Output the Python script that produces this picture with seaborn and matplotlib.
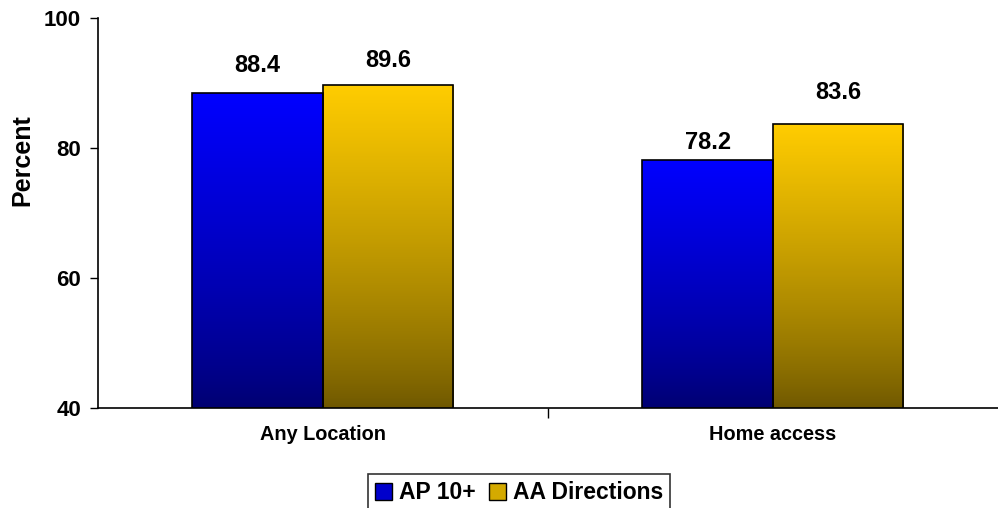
import seaborn as sns
import matplotlib.pyplot as plt
import pandas as pd
import numpy as np
from matplotlib.colors import LinearSegmentedColormap
from matplotlib.patches import Patch

categories = ['Any Location', 'Home access']
series = ['AP 10+', 'AA Directions']
ap_values = [88.4, 78.2]
aa_values = [89.6, 83.6]
colors = ['#0000FF', '#FFCC00']
dark_colors = ['#000070', '#6E5700']
# label offsets (points) as placed in the original chart
label_offsets = [[11.5, 4.3], [9.4, 14.4]]

df = pd.DataFrame({
    'category': categories * 2,
    'group': [series[0]] * 2 + [series[1]] * 2,
    'value': ap_values + aa_values,
})

sns.set_theme(style='white')
plt.rcParams['font.family'] = ['Liberation Sans', 'DejaVu Sans']
plt.rcParams['font.weight'] = 'bold'
plt.rcParams['text.color'] = 'black'
plt.rcParams['axes.labelcolor'] = 'black'
plt.rcParams['xtick.color'] = 'black'
plt.rcParams['ytick.color'] = 'black'

fig = plt.figure(figsize=(9.98, 5.08), dpi=100)
ax = fig.add_axes([0.098, 0.197, 0.902, 0.768])

sns.barplot(data=df, x='category', y='value', hue='group', palette=colors,
            width=0.58, ax=ax, edgecolor='black', linewidth=1.2, legend=False,
            saturation=1)

ax.set_ylim(40, 100)
ax.set_xlim(-0.5, 1.5)

# gradient fill per bar
for container, c_top, c_bot, offs in zip(ax.containers, colors, dark_colors, label_offsets):
    cmap = LinearSegmentedColormap.from_list('g', [c_bot, c_top])
    for bar, off in zip(container, offs):
        x, w, h = bar.get_x(), bar.get_width(), bar.get_height()
        grad = np.linspace(1, 0, 256).reshape(-1, 1)
        grad = grad ** 0.8
        im = ax.imshow(grad, extent=[x, x + w, 40, h], aspect='auto',
                       cmap=cmap, vmin=0, vmax=1, zorder=2)
        im.set_clip_path(bar)
        bar.set_facecolor('none')
        bar.set_zorder(3)
        ax.annotate(f'{h:.1f}', (x + w / 2, h), xytext=(0, off),
                    textcoords='offset points', ha='center', va='bottom',
                    fontsize=17, fontweight='bold')

ax.set_xlim(-0.5, 1.5)
ax.set_ylim(40, 100)
ax.set_yticks([40, 60, 80, 100])
ax.set_xticks([0, 1])
ax.set_xticklabels(categories)
ax.set_xticks([0.5], minor=True)
ax.tick_params(axis='x', which='major', length=0, labelsize=14.3, pad=12)
ax.tick_params(axis='x', which='minor', length=7, width=1, color='black', direction='out', bottom=True)
ax.tick_params(axis='y', length=6, width=1, color='black', direction='out', left=True, labelsize=16, pad=6)
for lab in ax.get_xticklabels() + ax.get_yticklabels():
    lab.set_fontweight('bold')

ax.set_xlabel('')
ax.set_ylabel('')
fig.text(22 / 998, 1 - 160 / 508, 'Percent', rotation=90, ha='center', va='center',
         fontsize=18, fontweight='bold')

sns.despine(ax=ax)
for s in ['left', 'bottom']:
    ax.spines[s].set_color('black')
    ax.spines[s].set_linewidth(1.2)

handles = [Patch(facecolor='#0000CC', edgecolor='black', linewidth=1),
           Patch(facecolor='#D4AA00', edgecolor='black', linewidth=1)]
leg = fig.legend(handles, series, loc='center', bbox_to_anchor=(0.52, 0.03), ncol=2,
                 frameon=True, fancybox=False, handlelength=0.75,
                 handleheight=0.75, handletextpad=0.3, columnspacing=0.6,
                 borderpad=0.3, prop={'weight': 'bold', 'size': 16.5})
leg.get_frame().set_edgecolor('black')
leg.get_frame().set_linewidth(1.2)

plt.savefig('out.png', dpi=100)
